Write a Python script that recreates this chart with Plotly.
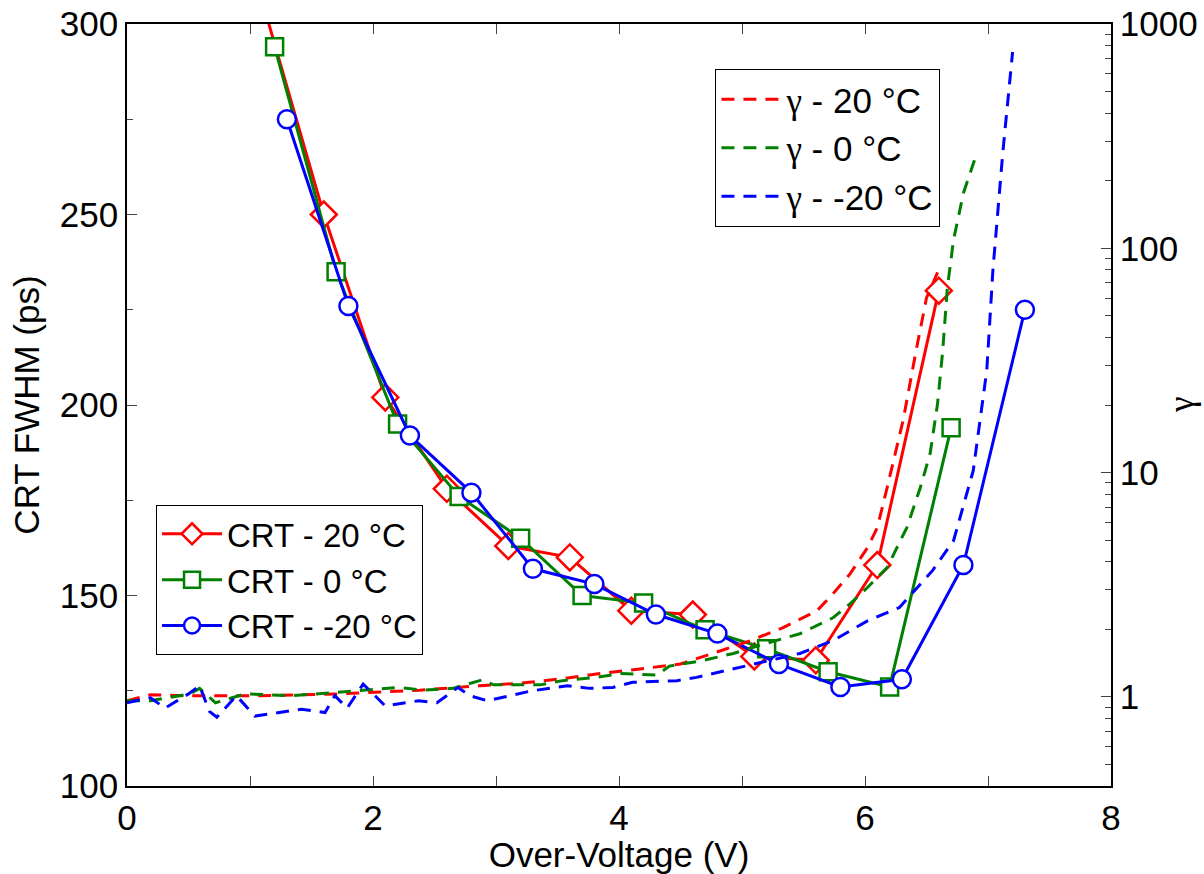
import numpy as np
import plotly.graph_objects as go

# CRT FWHM data (ps)
crt20_x = [1.1, 1.6, 2.1, 2.6, 3.1, 3.6, 4.1, 4.6, 5.1, 5.6, 6.1, 6.6]
crt20_y = [306, 250, 202, 178, 163, 160, 146, 145, 134, 133, 158, 230]
crt0_x = [1.2, 1.7, 2.2, 2.7, 3.2, 3.7, 4.2, 4.7, 5.2, 5.7, 6.2, 6.7]
crt0_y = [294, 235, 195, 176, 165, 150, 148, 141, 136, 130, 126, 194]
crtm20_x = [1.3, 1.8, 2.3, 2.8, 3.3, 3.8, 4.3, 4.8, 5.3, 5.8, 6.3, 6.8, 7.3]
crtm20_y = [275, 226, 192, 177, 157, 153, 145, 140, 132, 126, 128, 158, 225]

# gamma data (right log axis)
g20_x = [0, 0.19, 0.51, 1.08, 1.73, 2.38, 2.87, 3.20, 3.52, 3.85, 4.17, 4.50, 4.82, 5.07,
         5.33, 5.61, 5.74, 5.88, 6.02, 6.10, 6.18, 6.31, 6.42, 6.50, 6.59]
g20_y = [0.96, 1.02, 1.01, 1.01, 1.03, 1.07, 1.12, 1.15, 1.20, 1.27, 1.33, 1.40, 1.60, 1.78,
         2.03, 2.42, 2.88, 3.54, 4.62, 5.68, 8.57, 17.1, 36, 60, 78]
g0_x = [0, 0.19, 0.51, 0.59, 0.72, 0.96, 1.34, 1.72, 2.20, 2.42, 2.65, 2.89, 2.98, 3.36,
        3.54, 3.82, 4.01, 4.31, 4.41, 4.68, 4.93, 5.20, 5.47, 5.74, 5.88, 6.02, 6.18,
        6.34, 6.45, 6.53, 6.59, 6.63, 6.67, 6.72, 6.80, 6.89]
g0_y = [0.96, 0.96, 1.03, 1.09, 0.94, 1.03, 1.01, 1.05, 1.10, 1.07, 1.09, 1.19, 1.13, 1.13,
        1.18, 1.22, 1.27, 1.25, 1.37, 1.45, 1.56, 1.73, 1.91, 2.25, 2.60, 3.07, 3.77,
        5.68, 8.57, 12.2, 20.3, 34, 67, 109, 176, 247]
gm20_x = [0, 0.19, 0.31, 0.50, 0.59, 0.67, 0.73, 0.89, 1.04, 1.42, 1.61, 1.69, 1.79, 1.92,
          2.10, 2.37, 2.52, 2.69, 2.79, 2.93, 3.28, 3.58, 3.76, 3.95, 4.11, 4.47, 4.63,
          4.82, 5.20, 5.47, 5.74, 6.02, 6.28, 6.55, 6.72, 6.88, 6.99, 7.04, 7.12, 7.20]
gm20_y = [0.94, 0.99, 0.89, 1.03, 1.12, 0.86, 0.81, 1.01, 0.82, 0.88, 0.85, 1.01, 0.89, 1.14,
          0.91, 0.96, 0.94, 1.10, 1.01, 0.96, 1.06, 1.12, 1.09, 1.10, 1.16, 1.18, 1.22,
          1.29, 1.45, 1.56, 1.78, 2.18, 2.50, 3.66, 4.97, 10.2, 28.5, 80, 266, 750]

RED, GREEN, BLUE = "#ff0000", "#008000", "#0000ff"
FONT = "Liberation Sans, Arial, sans-serif"
GAM = "<span style='font-family:Liberation Serif, Times New Roman, serif'>γ</span>"
TICK_SIZE = 35
TITLE_SIZE = 35

fig = go.Figure()

def crt(x, y, name, color, symbol, size):
    fig.add_trace(go.Scatter(
        x=x, y=y, name=name, mode="lines+markers", legend="legend",
        line=dict(color=color, width=3),
        marker=dict(symbol=symbol, size=size, color="white",
                    line=dict(color=color, width=2.5)),
    ))

crt(crt20_x, crt20_y, "CRT - 20 °C", RED, "diamond", 20)
crt(crt0_x, crt0_y, "CRT - 0 °C", GREEN, "square", 17)
crt(crtm20_x, crtm20_y, "CRT - -20 °C", BLUE, "circle", 18)

def gam(x, y, name, color):
    fig.add_trace(go.Scatter(
        x=x, y=y, name=name, mode="lines", yaxis="y2", legend="legend2",
        line=dict(color=color, width=3, dash="13px,9px"),
    ))

gam(g20_x, g20_y, GAM + " - 20 °C", RED)
gam(g0_x, g0_y, GAM + " - 0 °C", GREEN)
gam(gm20_x, gm20_y, GAM + " - -20 °C", BLUE)

log_minor = [k * 10 ** n for n in range(-1, 3) for k in range(2, 10)]

fig.update_layout(
    width=1204, height=874,
    margin=dict(l=127, r=93, t=24, b=88),
    paper_bgcolor="white", plot_bgcolor="white",
    font=dict(family=FONT, size=TICK_SIZE, color="black"),
    showlegend=True,
    xaxis=dict(
        range=[0, 8], dtick=2, tick0=0, automargin=False,
        showgrid=False, zeroline=False,
        showline=True, linecolor="black", linewidth=1.5, mirror="allticks",
        ticks="inside", ticklen=10, tickcolor="#444", tickwidth=1,
        minor=dict(ticks="inside", dtick=1, ticklen=6, tickcolor="#444"),
        title=dict(text="Over-Voltage (V)", standoff=2, font=dict(size=TITLE_SIZE)),
        tickfont=dict(size=TICK_SIZE),
    ),
    yaxis=dict(
        range=[100, 300], dtick=50, automargin=False,
        showgrid=False, zeroline=False,
        showline=True, linecolor="black", linewidth=1.5, mirror=True,
        ticks="inside", ticklen=10, tickcolor="#444", tickwidth=1,
        minor=dict(ticks="inside", dtick=25, ticklen=6, tickcolor="#444"),
        title=dict(text="CRT FWHM (ps)", standoff=10, font=dict(size=TITLE_SIZE)),
        tickfont=dict(size=TICK_SIZE),
    ),
    yaxis2=dict(
        type="log", overlaying="y", side="right", automargin=False,
        range=[np.log10(0.4), 3],
        tickvals=[1, 10, 100, 1000], ticktext=["1", "10", "100", "1000"],
        showgrid=False, zeroline=False,
        showline=True, linecolor="black", linewidth=1.5,
        ticks="inside", ticklen=10, tickcolor="#444", tickwidth=1,
        minor=dict(ticks="inside", tickvals=log_minor, ticklen=6, tickcolor="#444"),
        tickfont=dict(size=TICK_SIZE),
    ),
    legend=dict(
        x=0.0295, y=0.369, xanchor="left", yanchor="top",
        bgcolor="white", bordercolor="black", borderwidth=1,
        font=dict(size=33), itemwidth=60, tracegroupgap=0,
    ),
    legend2=dict(
        x=0.598, y=0.941, xanchor="left", yanchor="top",
        bgcolor="white", bordercolor="black", borderwidth=1,
        font=dict(size=35), itemwidth=60, tracegroupgap=0,
    ),
    annotations=[dict(
        text=GAM, xref="paper", yref="paper", x=1.0, xshift=70, y=0.5,
        showarrow=False, textangle=-90, font=dict(size=TITLE_SIZE), xanchor="center",
    )],
)

fig.write_html("out.html")
